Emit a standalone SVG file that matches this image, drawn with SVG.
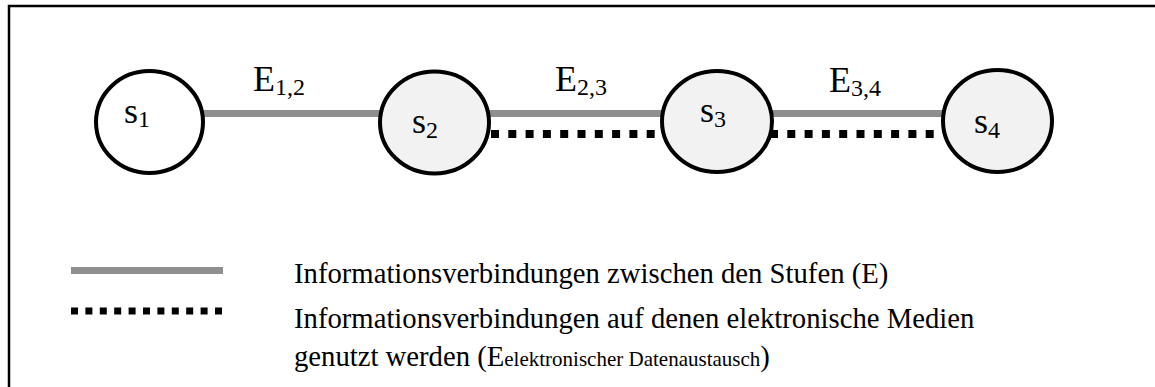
<svg xmlns="http://www.w3.org/2000/svg" width="1155" height="387" viewBox="0 0 1155 387">
<style>
text{font-family:"Liberation Serif","Times New Roman",serif;fill:#000}
.node{stroke:#000;stroke-width:4}
.gray{stroke:#8f8f8f;stroke-width:7;fill:none}
.dot{stroke:#000;stroke-width:8;stroke-dasharray:8 9.3;fill:none}
.ldot{stroke:#000;stroke-width:7;stroke-dasharray:7 7.4;fill:none}
.lbl{font-size:36px}
.sub{font-size:24px}
.leg{font-size:28.7px}
</style>
<rect x="9" y="6" width="1160" height="400" fill="#fff" stroke="#000" stroke-width="2.5"/>
<g id="connectors">
<line class="gray" x1="203" y1="113.5" x2="382" y2="113.5"/>
<line class="gray" x1="487" y1="113.5" x2="664" y2="113.5"/>
<line class="gray" x1="770" y1="113.5" x2="945" y2="113.5"/>
<line class="dot" x1="491" y1="134" x2="660" y2="134"/>
<line class="dot" x1="770" y1="134" x2="943" y2="134"/>
<text class="lbl" x="253" y="91">E<tspan class="sub" dy="4">1,2</tspan></text>
<text class="lbl" x="555" y="91">E<tspan class="sub" dy="4">2,3</tspan></text>
<text class="lbl" x="829" y="92">E<tspan class="sub" dy="4">3,4</tspan></text>
</g>
<g id="s1">
<ellipse class="node" cx="149.5" cy="122" rx="53.5" ry="51" fill="#fff"/>
<text class="lbl" x="124" y="123">s<tspan class="sub" dy="4">1</tspan></text>
</g>
<g id="s2">
<ellipse class="node" cx="434.5" cy="122.5" rx="54.5" ry="51" fill="#f2f2f2"/>
<text class="lbl" x="412" y="133">s<tspan class="sub" dy="5">2</tspan></text>
</g>
<g id="s3">
<ellipse class="node" cx="717" cy="121.5" rx="55" ry="50.5" fill="#f2f2f2"/>
<text class="lbl" x="700" y="122">s<tspan class="sub" dy="5">3</tspan></text>
</g>
<g id="s4">
<ellipse class="node" cx="997.5" cy="121" rx="54.5" ry="51" fill="#f2f2f2"/>
<text class="lbl" x="974" y="133">s<tspan class="sub" dy="5">4</tspan></text>
</g>
<g id="legend">
<line class="gray" x1="71" y1="270.5" x2="223" y2="270.5"/>
<line class="ldot" x1="71" y1="311" x2="223" y2="311"/>
<text class="leg" x="294" y="283">Informationsverbindungen zwischen den Stufen (E)</text>
<text class="leg" x="294" y="328">Informationsverbindungen auf denen elektronische Medien</text>
<text class="leg" x="294" y="366">genutzt werden (E<tspan font-size="21px">elektronischer Datenaustausch</tspan>)</text>
</g>
</svg>
